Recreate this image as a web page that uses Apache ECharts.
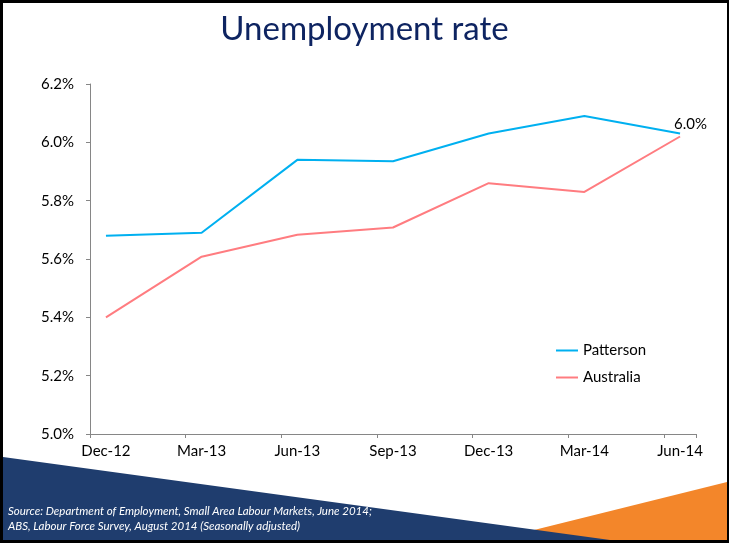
<!DOCTYPE html>
<html>
<head>
<meta charset="utf-8">
<title>Unemployment rate</title>
<script src="https://cdn.jsdelivr.net/npm/echarts@6/dist/echarts.min.js"></script>
<style>
  html, body { margin: 0; padding: 0; background: #000; }
  #chart { width: 729px; height: 543px; }
</style>
</head>
<body>
<div id="chart"></div>
<script>
// Quarterly labels and unemployment rates (%)
const quarters = ['Dec-12', 'Mar-13', 'Jun-13', 'Sep-13', 'Dec-13', 'Mar-14', 'Jun-14'];
const patterson = [5.68, 5.69, 5.94, 5.935, 6.03, 6.09, 6.03];
const australia = [5.40, 5.608, 5.683, 5.708, 5.86, 5.83, 6.02];
const yTicks = [5.0, 5.2, 5.4, 5.6, 5.8, 6.0, 6.2];

// Monthly date axis: each quarter label sits on its month, other months blank
const monthsPerQuarter = 3;
const monthCount = (quarters.length - 1) * monthsPerQuarter + 1;
const months = [];
for (let i = 0; i < monthCount; i++) {
  months.push(i % monthsPerQuarter === 0 ? quarters[i / monthsPerQuarter] : '');
}
function toMonthly(values) {
  const out = new Array(monthCount).fill(null);
  values.forEach((v, q) => { out[q * monthsPerQuarter] = v; });
  return out;
}

const blue = '#00B0F0';
const pink = '#FF7C80';
const font = 'Lato, "Open Sans", sans-serif';

const chart = echarts.init(document.getElementById('chart'));
chart.setOption({
  animation: false,
  backgroundColor: '#000',
  graphic: [
    { type: 'rect', z: -10, shape: { x: 3, y: 3, width: 724, height: 537 }, style: { fill: '#fff' } },
    { type: 'polygon', z: -9, shape: { points: [[530, 531], [727, 482], [727, 540], [530, 540]] }, style: { fill: '#F3862A' } },
    { type: 'polygon', z: -8, shape: { points: [[3, 457], [610, 540], [3, 540]] }, style: { fill: '#1F3D6E' } },
    { type: 'text', left: 8, top: 504, style: { text: 'Source: Department of Employment, Small Area Labour Markets, June 2014;\nABS, Labour Force Survey, August 2014 (Seasonally adjusted)', fill: '#fff', font: 'italic 11.5px ' + font, lineHeight: 15 } }
  ],
  title: {
    text: 'Unemployment rate',
    left: 'center',
    top: 8,
    textStyle: { color: '#0E2461', fontFamily: font, fontWeight: 'normal', fontSize: 33 }
  },
  legend: {
    orient: 'vertical',
    left: 551,
    top: 338,
    itemWidth: 22,
    itemHeight: 2,
    itemGap: 12,
    icon: 'rect',
    textStyle: { color: '#000', fontFamily: font, fontSize: 15 },
    data: ['Patterson', 'Australia']
  },
  grid: { left: 90, right: 33, top: 84, bottom: 109 },
  xAxis: {
    type: 'category',
    data: months,
    boundaryGap: true,
    axisLine: { lineStyle: { color: '#868686', width: 1 } },
    axisTick: { show: true, length: 4, interval: (i) => i % monthsPerQuarter === 0, lineStyle: { color: '#868686' } },
    axisLabel: { interval: 0, color: '#000', fontFamily: font, fontSize: 15, margin: 10 },
    splitLine: { show: false }
  },
  yAxis: {
    type: 'value',
    min: yTicks[0],
    max: yTicks[yTicks.length - 1],
    interval: 0.2,
    axisLine: { show: true, lineStyle: { color: '#868686', width: 1 } },
    axisTick: { show: true, length: 4, lineStyle: { color: '#868686' } },
    axisLabel: { color: '#000', fontFamily: font, fontSize: 15, margin: 16, formatter: (v) => v.toFixed(1) + '%' },
    splitLine: { show: false }
  },
  series: [
    {
      name: 'Patterson',
      type: 'line',
      data: toMonthly(patterson),
      connectNulls: true,
      symbol: 'none',
      color: blue,
      lineStyle: { color: blue, width: 2 },
      endLabel: {
        show: true,
        formatter: (p) => p.value.toFixed(1) + '%',
        offset: [-14, -9],
        color: '#000',
        fontFamily: font,
        fontSize: 15
      }
    },
    {
      name: 'Australia',
      type: 'line',
      data: toMonthly(australia),
      connectNulls: true,
      symbol: 'none',
      color: pink,
      lineStyle: { color: pink, width: 2 }
    }
  ]
});
</script>
</body>
</html>
